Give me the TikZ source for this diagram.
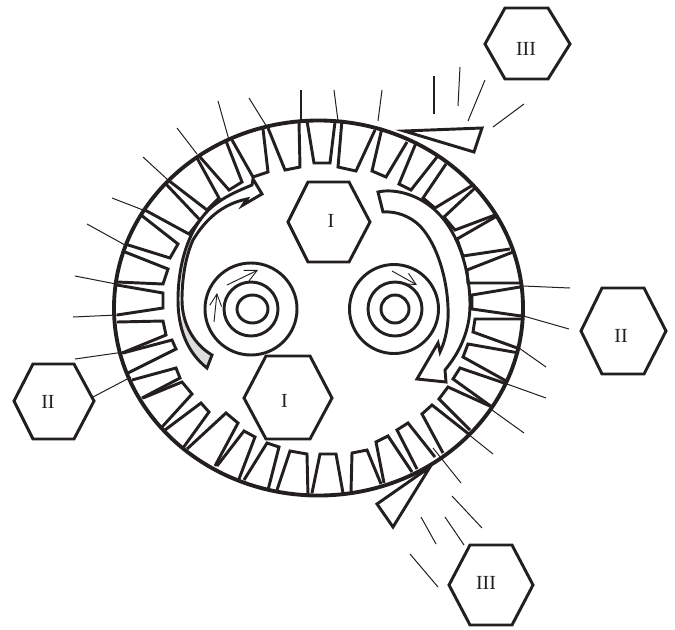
\documentclass[tikz,border=0pt]{standalone}
\usepackage{fontspec}
\setmainfont{Liberation Serif}
\usetikzlibrary{arrows.meta}
\definecolor{ink}{HTML}{231F20}
\tikzset{
  slotline/.style={draw=ink,line width=2.2pt,line join=miter},
  ringline/.style={draw=ink,line width=2.2pt},
  leader/.style={draw=ink,line width=0.75pt},
  heavyleader/.style={draw=ink,line width=1.5pt},
  hexa/.style={draw=ink,line width=2.2pt,line join=miter,fill=white},
  hexlabel/.style={text=ink,font=\fontsize{15}{15}\selectfont,inner sep=0pt},
  tiny arrow/.style={draw=ink,line width=0.7pt,-{Straight Barb[length=9pt,width=9pt]}}
}
\begin{document}
\begin{tikzpicture}[x=0.75pt,y=-0.75pt]
\useasboundingbox (0,0) rectangle (675,629);
% outer shell
\draw[draw=ink,line width=2.9pt] (318.5,308) ellipse [x radius=204.5,y radius=187.5];
% slots, clockwise from the top
\foreach \p in {
 {(307,121) -- (314,163) -- (330,163) -- (335,122)},
 {(342,120) -- (338,167) -- (356,171) -- (375,130)},
 {(382,128) -- (372,171) -- (386,177) -- (407,142)},
 {(416,143) -- (399,184) -- (411,190) -- (437,157)},
 {(446,164) -- (423,198) -- (435,208) -- (473,185)},
 {(475,188) -- (444,217) -- (455,230) -- (495,215)},
 {(497,216) -- (457,239) -- (463,256) -- (510,249)},
 {(513,252) -- (467,270) -- (468,283) -- (520,283)},
 {(520,287) -- (472,295) -- (472,309) -- (521,316)},
 {(523,319) -- (475,319) -- (473,332) -- (520,349)},
 {(519,353) -- (468,344) -- (463,357) -- (508,382)},
 {(507,384) -- (460,368) -- (453,379) -- (492,407)},
 {(492,407) -- (448,387) -- (439,399) -- (470,430)},
 {(470,435) -- (432,405) -- (422,414) -- (443,453)},
 {(435,457) -- (408,423) -- (397,430) -- (417,469)},
 {(412,472) -- (388,436) -- (376,442) -- (384,483)},
 {(381,484) -- (367,450) -- (352,453) -- (351,492)},
 {(343,493) -- (336,454) -- (320,454) -- (312,493)},
 {(308,497) -- (307,454) -- (290,451) -- (277,490)},
 {(268,490) -- (279,447) -- (267,443) -- (244,480)},
 {(239,479) -- (255,437) -- (244,431) -- (217,466)},
 {(215,466) -- (238,423) -- (226,413) -- (187,449)},
 {(183,448) -- (209,412) -- (201,403) -- (165,430)},
 {(162,427) -- (192,394) -- (182,382) -- (143,398)},
 {(142,398) -- (180,378) -- (176,368) -- (132,380)},
 {(128,373) -- (176,349) -- (172,340) -- (123,353)},
 {(122,353) -- (166,335) -- (163,321) -- (117,322)},
 {(117,315) -- (163,308) -- (163,293) -- (117,285)},
 {(117,282) -- (163,284) -- (168,269) -- (125,252)},
 {(125,244) -- (170,258) -- (178,244) -- (141,215)},
 {(143,209) -- (189,234) -- (200,220) -- (165,183)},
 {(168,180) -- (207,210) -- (219,198) -- (197,158)},
 {(200,157) -- (229,190) -- (242,182) -- (226,141)},
 {(232,140) -- (253,177) -- (268,172) -- (263,129)},
 {(268,128) -- (285,170) -- (300,167) -- (299,122)}
}{ \draw[slotline] \p; }
% rotors
\draw[ringline] (251,309) circle [radius=46];
\draw[ringline] (251,309) circle [radius=27];
\draw[ringline] (252.5,309) ellipse [x radius=15.5,y radius=14];
\draw[ringline] (394,309) circle [radius=44.5];
\draw[ringline] (395,309) circle [radius=27];
\draw[ringline] (395,309) circle [radius=14];
% small arrows
\coordinate (a1s) at (227,285); \coordinate (a1e) at (258,270);
\coordinate (a2s) at (214,322); \coordinate (a2e) at (217,293);
\coordinate (a3s) at (392,271); \coordinate (a3e) at (417,285);
\draw[tiny arrow] (a1s) -- (a1e);
\draw[tiny arrow] (a2s) -- (a2e);
\draw[tiny arrow] (a3s) -- (a3e);
% left curved arrow, grey tail first
\fill[fill=ink!15!white] (179,322) .. controls (184,345) and (194,358) .. (207,368) -- (212,355) .. controls (198,347) and (188,335) .. (183,318) -- cycle;
\draw[slotline] (207,368) .. controls (188,353) and (178,330) .. (178,300)
  .. controls (178,262) and (190,222) .. (217,203)
  .. controls (228,195) and (240,190) .. (252,185)
  -- (253,179) -- (262,194) -- (243,205) -- (247,199)
  .. controls (222,204) and (205,220) .. (193,240)
  .. controls (185,258) and (182,280) .. (182,300)
  .. controls (182,325) and (195,345) .. (212,355) -- cycle;
% right curved arrow
\draw[slotline] (378,192) .. controls (395,188) and (420,195) .. (437,212)
  .. controls (458,232) and (470,270) .. (470,305)
  .. controls (470,330) and (460,352) .. (445,370)
  -- (446,382) -- (417,379) -- (438,343) -- (440,352)
  .. controls (446,340) and (449,322) .. (448,307)
  .. controls (447,280) and (438,245) .. (420,226)
  .. controls (410,216) and (396,211) .. (383,212) -- cycle;
% blades
\draw[hexa] (404,131) -- (482,128) -- (474,152) -- cycle;
\draw[hexa] (430,467) -- (393,527) -- (377,504) -- cycle;
% leaders
\foreach \xa/\ya/\xb/\yb in {
 334/90/338/121, 382/90/378/121, 460/67/458/106, 485/80/468/121, 524/104/493/127,
 249/98/267/127, 218/101/229/140, 177/128/197/154, 143/157/168/180, 112/198/143/210,
 87/224/125/245, 75/276/116/284, 73/317/117/315, 75/359/124/352, 93/397/131/377,
 523/286/570/288, 520/315/569/329, 519/348/546/367, 507/384/546/398, 492/410/524/433,
 463/430/493/454, 433/448/461/483, 452/496/482/528, 445/517/464/545, 421/517/436/544, 410/554/438/587
}{ \draw[leader] (\xa,\ya) -- (\xb,\yb); }
\draw[heavyleader] (301,90) -- (301,120);
\draw[heavyleader] (434,76) -- (434,114);
% hexagons
\draw[hexa] (288,222) -- (308,182) -- (349,182) -- (370,222) -- (349,262) -- (308,262) -- cycle;
\node[hexlabel] (h1) at (331,221) {I};
\draw[hexa] (244,398) -- (266,356) -- (310,356) -- (332,398) -- (310,439) -- (266,439) -- cycle;
\node[hexlabel] (h2) at (284.5,400.5) {I};
\draw[hexa] (14,401) -- (33,364) -- (74,364) -- (94,401) -- (74,439) -- (33,439) -- cycle;
\node[hexlabel] (h3) at (48,401.5) {II};
\draw[hexa] (581,331) -- (602,288) -- (644,288) -- (666,331) -- (644,374) -- (602,374) -- cycle;
\node[hexlabel] (h4) at (621,336) {II};
\draw[hexa] (485,44) -- (505,8) -- (548,8) -- (570,44) -- (548,79) -- (505,79) -- cycle;
\node[hexlabel] (h5) at (526,49) {III};
\draw[hexa] (449,585) -- (470,545) -- (512,545) -- (533,585) -- (512,625) -- (470,625) -- cycle;
\node[hexlabel] (h6) at (486,583) {III};
\end{tikzpicture}
\end{document}
